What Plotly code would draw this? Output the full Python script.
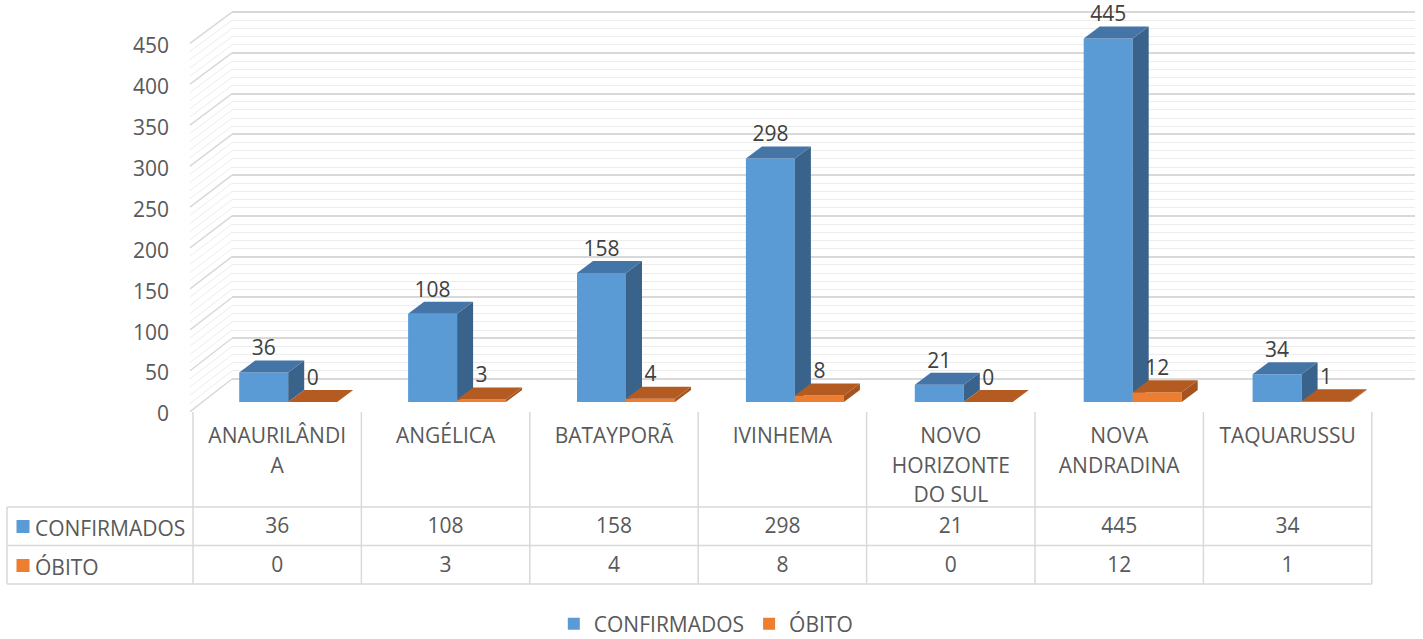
import plotly.graph_objects as go

# ---------------- data ----------------
categories = ["ANAURILÂNDIA", "ANGÉLICA", "BATAYPORÃ", "IVINHEMA",
              "NOVO HORIZONTE DO SUL", "NOVA ANDRADINA", "TAQUARUSSU"]
header_lines = [["ANAURILÂNDI", "A"], ["ANGÉLICA"], ["BATAYPORÃ"], ["IVINHEMA"],
                ["NOVO", "HORIZONTE", "DO SUL"], ["NOVA", "ANDRADINA"], ["TAQUARUSSU"]]
confirmados = [36, 108, 158, 298, 21, 445, 34]
obitos = [0, 3, 4, 8, 0, 12, 1]
series_names = ["CONFIRMADOS", "ÓBITO"]
y_tick_values = [0, 50, 100, 150, 200, 250, 300, 350, 400, 450]

# ---------------- style / geometry ----------------
W, H = 1423, 639
FONT = "Open Sans"
FS = 21
TXT = "#595959"
LBL = "#404040"
GRID_MAJOR = "#D9D9D9"
GRID_MINOR = "#EDEDED"
TABLE_LINE = "#D9D9D9"
BLUE = dict(front="#5B9BD5", top="#4574A7", side="#3A638C")
ORANGE = dict(front="#ED7D31", top="#B45B22", side="#A5541F")

COL0, COLW = 277.2, 168.4        # table column centre / width (px)
BAR0, BARSTEP = 288.2, 168.9     # bar-group centre on the bar plane (px)
BASE, S = 402.0, 0.817           # bar plane: px of value 0, px per unit
BAR_W_PX, DEPTH_X, DEPTH_Y = 49, 16, 12


def X(px):
    return (px - COL0) / COLW


def Y(py):
    return (BASE - py) / S


def PX(px):
    return px / W


def PY(py):
    return 1 - py / H


n = len(categories)
gx = [X(BAR0 + BARSTEP * i) for i in range(n)]
bw = BAR_W_PX / COLW
dx = DEPTH_X / COLW
dy = DEPTH_Y / S
blue_c = [g - bw / 2 for g in gx]
orange_c = [g + bw / 2 for g in gx]


def faces(centers, values):
    tx, ty, sx, sy = [], [], [], []
    for c, v in zip(centers, values):
        xl, xr = c - bw / 2, c + bw / 2
        tx += [xl, xr, xr + dx, xl + dx, xl, None]
        ty += [v, v, v + dy, v + dy, v, None]
        sx += [xr, xr + dx, xr + dx, xr, xr, None]
        sy += [0, dy, v + dy, v, 0, None]
    return tx, ty, sx, sy


fig = go.Figure()

# dummy trace for back-wall subplot (xy)
fig.add_trace(go.Scatter(x=[0.5], y=[0], xaxis="x", yaxis="y", mode="markers",
                         marker=dict(opacity=0), showlegend=False, hoverinfo="skip"))

# side wall diagonal lines (x2y2)
major_x, major_y, minor_x, minor_y = [], [], [], []
for v in range(0, 451, 10):
    f_py = 411.7 - 0.8187 * v
    b_py = 379.0 - 0.8153 * v
    xs = [X(190), X(232), None]
    ys = [Y(f_py), Y(b_py), None]
    if v % 50 == 0:
        major_x += xs; major_y += ys
    else:
        minor_x += xs; minor_y += ys
fig.add_trace(go.Scatter(x=minor_x, y=minor_y, mode="lines", xaxis="x2", yaxis="y2",
                         line=dict(color=GRID_MINOR, width=1), showlegend=False, hoverinfo="skip"))
fig.add_trace(go.Scatter(x=major_x, y=major_y, mode="lines", xaxis="x2", yaxis="y2",
                         line=dict(color=GRID_MAJOR, width=1.5), showlegend=False, hoverinfo="skip"))

# blue bars (x2y2)
tx, ty, sx, sy = faces(blue_c, confirmados)
fig.add_trace(go.Bar(x=blue_c, y=confirmados, width=bw, xaxis="x2", yaxis="y2",
                     name=series_names[0], marker=dict(color=BLUE["front"], line=dict(width=0)),
                     hoverinfo="skip", legendrank=1))
fig.add_trace(go.Scatter(x=sx, y=sy, fill="toself", mode="none", fillcolor=BLUE["side"],
                         xaxis="x2", yaxis="y2", showlegend=False, hoverinfo="skip"))
fig.add_trace(go.Scatter(x=tx, y=ty, fill="toself", mode="none", fillcolor=BLUE["top"],
                         xaxis="x2", yaxis="y2", showlegend=False, hoverinfo="skip"))

# orange bars (x3y3 overlay, drawn above)
tx, ty, sx, sy = faces(orange_c, obitos)
fig.add_trace(go.Bar(x=orange_c, y=obitos, width=bw, xaxis="x3", yaxis="y3",
                     name=series_names[1], marker=dict(color=ORANGE["front"], line=dict(width=0)),
                     hoverinfo="skip", legendrank=2))
fig.add_trace(go.Scatter(x=sx, y=sy, fill="toself", mode="none", fillcolor=ORANGE["side"],
                         xaxis="x3", yaxis="y3", showlegend=False, hoverinfo="skip"))
fig.add_trace(go.Scatter(x=tx, y=ty, fill="toself", mode="none", fillcolor=ORANGE["top"],
                         xaxis="x3", yaxis="y3", showlegend=False, hoverinfo="skip"))

# data labels
lab_off = 22.5 / S
fig.add_trace(go.Scatter(x=blue_c + orange_c,
                         y=[v + lab_off for v in confirmados] + [v + lab_off for v in obitos],
                         text=[str(v) for v in confirmados] + [str(v) for v in obitos],
                         mode="text", textposition="middle center", cliponaxis=False,
                         textfont=dict(family=FONT, size=FS, color=LBL),
                         xaxis="x3", yaxis="y3", showlegend=False, hoverinfo="skip"))

# data table: header category labels
hx, hy, ht = [], [], []
for i, lines in enumerate(header_lines):
    for k, t in enumerate(lines):
        hx.append(i); hy.append(Y(438 + 29.5 * k)); ht.append(t)
fig.add_trace(go.Scatter(x=hx, y=hy, text=ht, mode="text", textposition="middle center",
                         textfont=dict(family=FONT, size=FS, color=TXT),
                         xaxis="x3", yaxis="y3", showlegend=False, hoverinfo="skip"))

# data table: values
fig.add_trace(go.Scatter(x=list(range(n)) * 2,
                         y=[Y(528)] * n + [Y(567)] * n,
                         text=[str(v) for v in confirmados] + [str(v) for v in obitos],
                         mode="text", textposition="middle center",
                         textfont=dict(family=FONT, size=FS, color=TXT),
                         xaxis="x3", yaxis="y3", showlegend=False, hoverinfo="skip"))

# data table: legend keys
fig.add_trace(go.Scatter(x=[X(23), X(23)], y=[Y(526.5), Y(565.5)], mode="markers",
                         marker=dict(symbol="square", size=13,
                                     color=[BLUE["front"], ORANGE["front"]], line=dict(width=0)),
                         xaxis="x3", yaxis="y3", showlegend=False, hoverinfo="skip"))

# dummy for tick-label axis
fig.add_trace(go.Scatter(x=[0], y=[0], xaxis="x2", yaxis="y4", mode="markers",
                         marker=dict(opacity=0), showlegend=False, hoverinfo="skip"))

# table lines
shapes = []
for k in range(n + 1):
    xx = 193 + COLW * k
    shapes.append(dict(type="line", xref="paper", yref="paper",
                       x0=PX(xx), x1=PX(xx), y0=PY(412), y1=PY(584),
                       line=dict(color=TABLE_LINE, width=1.5)))
shapes.append(dict(type="line", xref="paper", yref="paper",
                   x0=PX(7), x1=PX(7), y0=PY(507), y1=PY(584),
                   line=dict(color=TABLE_LINE, width=1.5)))
for yy in (507, 545.5, 584):
    shapes.append(dict(type="line", xref="paper", yref="paper",
                       x0=PX(7), x1=PX(193 + COLW * n), y0=PY(yy), y1=PY(yy),
                       line=dict(color=TABLE_LINE, width=1.5)))

annotations = []
for name, yy in zip(series_names, (528, 567)):
    annotations.append(dict(text=name, xref="paper", yref="paper", x=PX(33), y=PY(yy),
                            xanchor="left", yanchor="middle", showarrow=False,
                            font=dict(family=FONT, size=FS, color=TXT)))

# axes ranges
x2_range = [X(0), X(W)]
y2_range = [Y(H), Y(0)]


def back_py(v):
    return 379.0 - 0.8153 * v


def lab_py(v):
    return 414.0 - 0.8178 * v


fig.update_layout(
    width=W, height=H, autosize=False,
    margin=dict(l=0, r=0, t=0, b=0, pad=0, autoexpand=False),
    paper_bgcolor="white", plot_bgcolor="rgba(0,0,0,0)",
    barmode="overlay",
    font=dict(family=FONT, size=FS, color=TXT),
    showlegend=True,
    legend=dict(orientation="h", x=0.496, xanchor="center", y=PY(624), yanchor="middle",
                font=dict(family=FONT, size=FS, color=TXT), traceorder="normal",
                bgcolor="rgba(0,0,0,0)"),
    xaxis=dict(domain=[PX(232), PX(1415)], range=[0, 1], visible=False, anchor="y"),
    yaxis=dict(domain=[PY(back_py(-2)), PY(back_py(452))], range=[-2, 452], anchor="x",
               showticklabels=False, ticks="", showline=False, zeroline=False,
               showgrid=True, gridcolor=GRID_MAJOR, gridwidth=1.5, tick0=0, dtick=50,
               minor=dict(dtick=10, showgrid=True, gridcolor=GRID_MINOR, gridwidth=1)),
    xaxis2=dict(domain=[0, 1], range=x2_range, visible=False, anchor="y2"),
    yaxis2=dict(domain=[0, 1], range=y2_range, visible=False, anchor="x2"),
    xaxis3=dict(range=x2_range, visible=False, overlaying="x2", anchor="y3"),
    yaxis3=dict(range=y2_range, visible=False, overlaying="y2", anchor="x3"),
    yaxis4=dict(domain=[PY(lab_py(-2)), PY(lab_py(452))], range=[-2, 452],
                anchor="free", position=PX(190), side="left",
                tickmode="array", tickvals=y_tick_values,
                ticktext=[str(v) for v in y_tick_values],
                showgrid=False, zeroline=False, showline=False, ticks="",
                ticklabelstandoff=21, automargin=False,
                tickfont=dict(family=FONT, size=FS, color=TXT)),
    shapes=shapes,
    annotations=annotations,
)

fig.write_html("out.html", config={"displayModeBar": False},
               post_script="document.body.style.margin='0';document.body.style.overflow='hidden';")
